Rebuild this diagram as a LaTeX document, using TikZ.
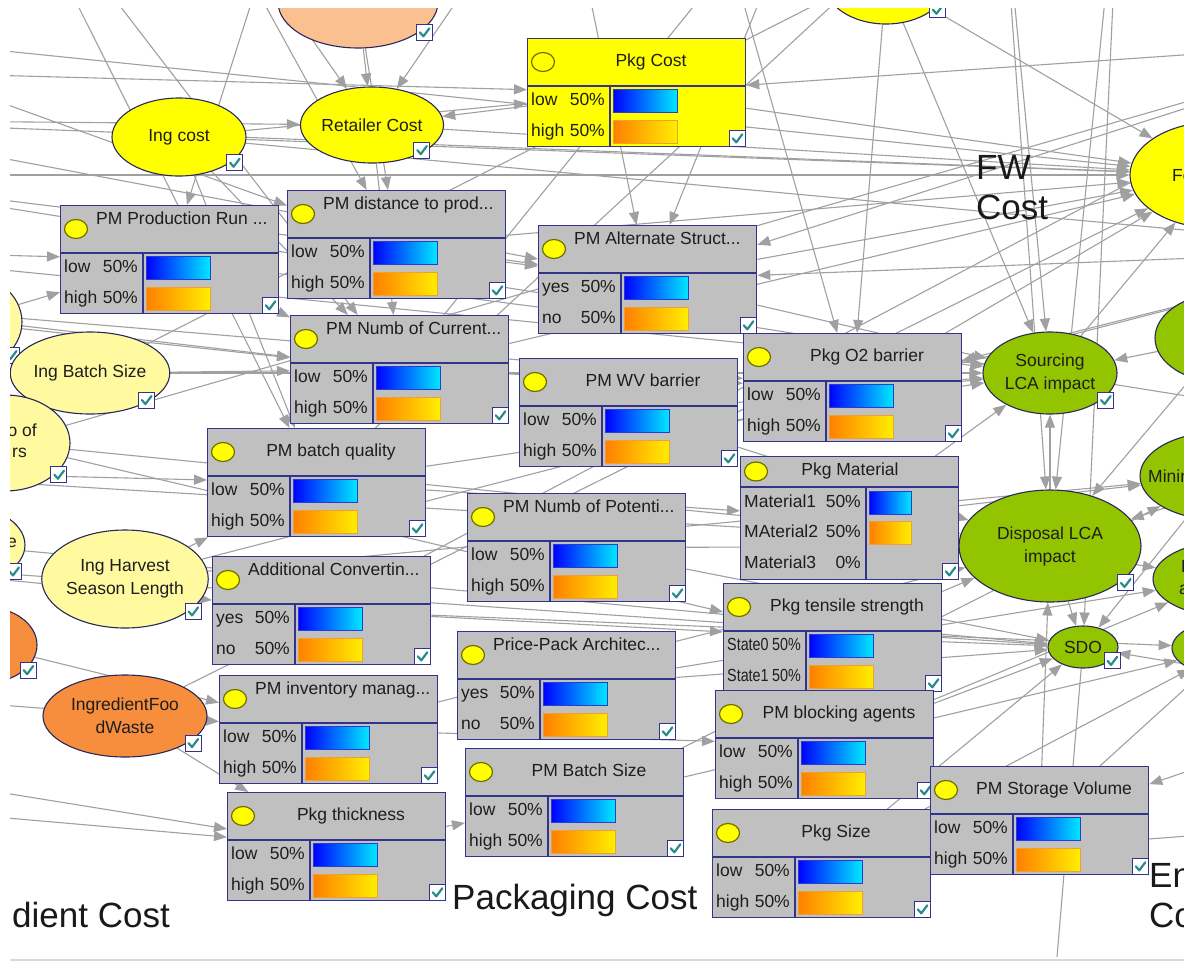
\documentclass[tikz,border=0pt]{standalone}
\usepackage{graphicx}
\usepackage{fontspec}
\setmainfont{Liberation Sans}
\usetikzlibrary{shapes.geometric,arrows.meta,backgrounds}

\definecolor{boxGray}{RGB}{192,192,192}
\definecolor{boxLine}{RGB}{51,51,140}
\definecolor{bubbleLine}{RGB}{40,40,90}
\definecolor{linkGray}{RGB}{160,160,160}
\definecolor{nodeYellow}{RGB}{255,255,0}
\definecolor{paleYellow}{RGB}{255,250,160}
\definecolor{peach}{RGB}{250,192,143}
\definecolor{costOrange}{RGB}{246,142,62}
\definecolor{lcaGreen}{RGB}{146,196,0}
\definecolor{tickTeal}{RGB}{40,140,140}
\definecolor{dotRim}{RGB}{110,110,0}
\definecolor{ink}{RGB}{30,30,30}
\definecolor{barBlue}{RGB}{0,0,255}
\definecolor{barCyan}{RGB}{0,232,255}
\definecolor{barBlueEdge}{RGB}{40,60,210}
\definecolor{barOrange}{RGB}{255,127,0}
\definecolor{barGold}{RGB}{255,238,0}
\definecolor{barOrangeEdge}{RGB}{240,160,50}

\tikzset{
  monbox/.style={rectangle,draw=boxLine,line width=1.3,anchor=north west,minimum width=218,inner sep=0},
  monline/.style={draw=boxLine,line width=1.3},
  dotmark/.style={ellipse,draw=dotRim,fill=nodeYellow,line width=1.2,minimum width=23,minimum height=19,inner sep=0},
  tickbox/.style={rectangle,draw=boxLine,fill=white,line width=1,minimum size=16,inner sep=0,
    path picture={\draw[tickTeal,line width=2.2,line cap=round,line join=round]
      ([shift={(-4.5,0)}]path picture bounding box.center) -- ++(3.5,4) -- ++(6,-8);}},
  bubble/.style={ellipse,draw=bubbleLine,line width=1.1,inner sep=0,align=center},
  barlow/.style={left color=barBlue,right color=barCyan,draw=barBlueEdge,line width=1},
  barhigh/.style={left color=barOrange,right color=barGold,draw=barOrangeEdge,line width=1},
  statetxt/.style={inner sep=0,text height=12.5pt,text depth=3.5pt},
  titletxt/.style={inner sep=0,text height=12.5pt,text depth=3.5pt},
  cuttxt/.style={inner sep=0},
  bigtxt/.style={inner sep=0,align=left,font=\fontsize{35}{40}\selectfont,text=black!90},
  conn/.style={draw=linkGray,line width=1.1,-{Triangle[length=13pt,width=10pt]}}
}

% monitor window: name, x, y, height, header, divider, fill
\newcommand{\monframe}[7]{%
  \node[monbox,minimum height=#4,fill=#7] (#1) at (#2,#3) {};
  \draw[monline] ([shift={(0,#5)}]#1.north west) -- ([shift={(0,#5)}]#1.north east);
  \draw[monline] ([shift={(#6,#5)}]#1.north west) -- ([shift={(#6,0)}]#1.south west);
  \node[dotmark] (#1-dot) at ([shift={(16,#5/2)}]#1.north west) {};
  \node[tickbox] (#1-chk) at ([shift={(-9,-9)}]#1.south east) {};
}
% one state row: box, id, row y, state, share, divider, bar style, bar width
\newcommand{\monrow}[8]{%
  \node[statetxt,anchor=west] (#1-s#2) at ([shift={(4,#3)}]#1.north west) {#4};
  \node[statetxt,anchor=east] (#1-p#2) at ([shift={(#6-5,#3)}]#1.north west) {#5};
  \path[#7] ([shift={(#6+3,#3-12)}]#1.north west) rectangle ++(#8,23);
}
% two state monitor
\newcommand{\cptmon}[6]{%
  \monframe{#1}{#2}{#3}{108}{48}{83}{#4}
  \monrow{#1}{1}{63}{#5}{50\%}{83}{barlow}{64}
  \monrow{#1}{2}{94}{#6}{50\%}{83}{barhigh}{64}
}
\newcommand{\titlefull}[2]{\node[titletxt] (#1-t) at ([shift={(124,24)}]#1.north west) {#2};}
\newcommand{\titlecut}[2]{\node[titletxt,anchor=west] (#1-t) at ([shift={(36,15)}]#1.north west) {#2};}
\newcommand{\narrow}[1]{\scalebox{0.82}[1]{#1}}
% oval node: name, x, y, rx, ry, fill, label
\newcommand{\bnode}[7]{%
  \node[bubble,fill=#6,minimum width={2*#4},minimum height={2*#5}] (#1) at (#2,#3) {#7};
  \node[tickbox] (#1-chk) at ([shift={({0.83*#4},{0.66*#5})}]#1.center) {};
}

\begin{document}
\begin{tikzpicture}[x=1pt,y=-1pt,every node/.style={font=\fontsize{17.5}{23}\selectfont,text=ink}]
\useasboundingbox (0,0) rectangle (1184,962);

% ingredient side
\bnode{peachTop}{358}{2}{80}{46}{peach}{}
\bnode{ingCost}{179}{137}{67}{39}{nodeYellow}{Ing cost}
\bnode{retailer}{372}{125}{60}{38}{nodeYellow}{Retailer Cost}
\bnode{leftTop}{-40}{322}{62}{50}{paleYellow}{}
\bnode{ingBatch}{90}{373}{68}{41}{paleYellow}{Ing Batch Size}
\bnode{leftOf}{5}{443}{65}{48}{paleYellow}{}
\bnode{leftE}{-40}{545}{65}{40}{paleYellow}{}
\bnode{ingHarvest}{125}{579}{82}{49}{paleYellow}{Ing Harvest\\Season Length}
\bnode{leftOrange}{-15}{645}{52}{38}{costOrange}{}
\bnode{ingFW}{125}{716}{82}{41}{costOrange}{IngredientFoo\\dWaste}
\node[cuttxt,anchor=east] (leftOf-l1) at (37,430) {o of};
\node[cuttxt,anchor=east] (leftOf-l2) at (27,453) {rs};
\node[cuttxt,anchor=east] (leftE-l) at (17,543) {e};

% food waste and LCA side
\bnode{fwTop}{886}{-18}{62}{42}{nodeYellow}{}
\bnode{fwCost}{1215}{175}{85}{53}{nodeYellow}{}
\bnode{green1}{1225}{338}{70}{45}{lcaGreen}{}
\bnode{sourcing}{1050}{373}{67}{41}{lcaGreen}{Sourcing\\LCA impact}
\bnode{mining}{1220}{476}{80}{44}{lcaGreen}{}
\bnode{disposal}{1050}{546}{91}{56}{lcaGreen}{Disposal LCA\\impact}
\bnode{recyc}{1225}{579}{72}{37}{lcaGreen}{}
\bnode{sdo}{1083}{647}{35}{21}{lcaGreen}{SDO}
\bnode{green2}{1230}{648}{58}{28}{lcaGreen}{}
\node[cuttxt,anchor=west] (fwCost-l) at (1172,176) {Fo};
\node[cuttxt,anchor=west] (mining-l) at (1148,476) {Minin};
\node[cuttxt,anchor=west] (recyc-l1) at (1181,566) {R};
\node[cuttxt,anchor=west] (recyc-l2) at (1179,590) {a};

% packaging monitors
\cptmon{pkgCost}{527}{38}{nodeYellow}{low}{high}
\titlefull{pkgCost}{Pkg Cost}
\cptmon{pmProdRun}{60}{205}{boxGray}{low}{high}
\titlecut{pmProdRun}{PM Production Run ...}
\cptmon{pmDistance}{287}{190}{boxGray}{low}{high}
\titlecut{pmDistance}{PM distance to prod...}
\cptmon{pmAltStruct}{538}{225}{boxGray}{yes}{no}
\titlecut{pmAltStruct}{PM Alternate Struct...}
\cptmon{pmNumCurrent}{290}{315}{boxGray}{low}{high}
\titlecut{pmNumCurrent}{PM Numb of Current...}
\cptmon{pmWV}{519}{358}{boxGray}{low}{high}
\titlefull{pmWV}{PM WV barrier}
\cptmon{pkgO2}{743}{333}{boxGray}{low}{high}
\titlefull{pkgO2}{Pkg O2 barrier}
\cptmon{pmBatchQual}{207}{428}{boxGray}{low}{high}
\titlefull{pmBatchQual}{PM batch quality}

\monframe{pkgMaterial}{740}{456}{123}{31}{126}{boxGray}
\node[titletxt] (pkgMaterial-t) at ([shift={(110,15)}]pkgMaterial.north west) {Pkg Material};
\monrow{pkgMaterial}{1}{47}{Material1}{50\%}{126}{barlow}{42}
\monrow{pkgMaterial}{2}{77}{MAterial2}{50\%}{126}{barhigh}{42}
\monrow{pkgMaterial}{3}{108}{Material3}{0\%}{126}{}{0}

\cptmon{pmNumPotential}{467}{493}{boxGray}{low}{high}
\titlecut{pmNumPotential}{PM Numb of Potenti...}
\cptmon{addConverting}{212}{556}{boxGray}{yes}{no}
\titlecut{addConverting}{Additional Convertin...}

\monframe{pkgTensile}{723}{583}{108}{48}{83}{boxGray}
\titlefull{pkgTensile}{Pkg tensile strength}
\monrow{pkgTensile}{1}{63}{\narrow{State0}}{\narrow{50\%}}{83}{barlow}{64}
\monrow{pkgTensile}{2}{94}{\narrow{State1}}{\narrow{50\%}}{83}{barhigh}{64}

\cptmon{pricePack}{457}{631}{boxGray}{yes}{no}
\titlecut{pricePack}{Price-Pack Architec...}
\cptmon{pmInventory}{219}{675}{boxGray}{low}{high}
\titlecut{pmInventory}{PM inventory manag...}
\cptmon{pmBlocking}{715}{690}{boxGray}{low}{high}
\titlefull{pmBlocking}{PM blocking agents}
\cptmon{pmBatchSize}{465}{748}{boxGray}{low}{high}
\titlefull{pmBatchSize}{PM Batch Size}
\cptmon{pmStorage}{930}{766}{boxGray}{low}{high}
\titlefull{pmStorage}{PM Storage Volume}
\cptmon{pkgThickness}{227}{792}{boxGray}{low}{high}
\titlefull{pkgThickness}{Pkg thickness}
\cptmon{pkgSize}{712}{809}{boxGray}{low}{high}
\titlefull{pkgSize}{Pkg Size}

% group captions
\node[bigtxt,anchor=north west] (fwLbl) at (976,155) {FW\\Cost};
\node[bigtxt,anchor=base west] (pkgLbl) at (452,909) {Packaging Cost};
\node[bigtxt,anchor=base west] (ingLbl) at (12,927) {dient Cost};
\node[bigtxt,anchor=north west] (envLbl) at (1149,863) {En\\Co};

\begin{pgfonlayer}{background}
% ends off the page
\coordinate (wA) at (-200,30);
\coordinate (wA2) at (-200,70);
\coordinate (wB) at (-200,120);
\coordinate (wC) at (-200,175);
\coordinate (wD) at (-200,250);
\coordinate (wE) at (-200,300);
\coordinate (wF) at (-200,470);
\coordinate (wG) at (-200,560);
\coordinate (wH) at (-200,690);
\coordinate (wI) at (-200,760);
\coordinate (wJ) at (-200,800);
\coordinate (nA2) at (0,-150);
\coordinate (nA) at (180,-150);
\coordinate (nA3) at (300,-150);
\coordinate (nB) at (560,-150);
\coordinate (nC) at (700,-150);
\coordinate (nD) at (820,-150);
\coordinate (nE) at (1000,-150);
\coordinate (nF) at (1120,-150);
\coordinate (eA) at (1400,40);
\coordinate (eB) at (1400,250);
\coordinate (eC) at (1400,430);
\coordinate (eD) at (1400,700);
\coordinate (eE) at (1400,820);
\coordinate (sD) at (1045,1100);

% cost links
\foreach \a/\b in {wA/fwCost, wA2/pkgCost, wB/fwCost, wB/retailer, wC/pmAltStruct, wC/fwCost,
  peachTop/retailer, nA/retailer, nB/retailer, ingCost/pkgCost, ingCost/fwCost, pkgCost/retailer,
  pkgCost/fwCost, retailer/fwCost, eA/pkgCost, fwTop/fwCost, ingFW/fwCost, sourcing/fwCost,
  ingCost/eB, wC/eC, leftOf/eA, ingHarvest/eB}
  \draw[conn] (\a) -- (\b);

% packaging links
\foreach \a/\b in {wD/pmProdRun, leftTop/pmProdRun, wE/pmNumCurrent, pmProdRun/pmNumCurrent,
  ingBatch/pmNumCurrent, leftTop/pmNumCurrent, nA/pmDistance, pmDistance/pmAltStruct,
  pmDistance/fwCost, nB/pmAltStruct, nD/pmAltStruct, eA/pmAltStruct, eB/pmAltStruct,
  pmAltStruct/fwCost, pmNumCurrent/fwCost, pmNumCurrent/pkgO2, nC/pkgO2, fwTop/pkgO2,
  eB/pkgO2, wE/pkgO2, pkgO2/fwCost, wF/pmBatchQual, ingHarvest/pmBatchQual,
  pmBatchQual/pkgMaterial, wG/addConverting, addConverting/pkgTensile, leftOf/pkgTensile,
  wH/pmInventory, leftOrange/pmInventory, pmInventory/pmBlocking, wI/pkgThickness,
  wJ/pkgThickness, ingFW/pkgThickness, pkgThickness/pmBatchSize, eE/pkgSize, eD/pmStorage,
  nA2/pmNumCurrent, nA2/pmBatchQual, nA3/pmProdRun, wA/pmDistance, wB/pmAltStruct,
  ingCost/pmNumCurrent, ingCost/pmBatchQual, peachTop/pmDistance, retailer/pmNumCurrent,
  pmNumCurrent/nD, pmBatchQual/nE, ingBatch/nF, addConverting/eA}
  \draw[conn] (\a) -- (\b);

% LCA links
\foreach \a/\b in {wD/sourcing, pmProdRun/sourcing, pmAltStruct/sourcing, pmWV/sourcing,
  pkgO2/sourcing, pkgMaterial/sourcing, pmBatchQual/sourcing, ingBatch/sourcing,
  fwTop/sourcing, nE/sourcing, green1/sourcing, disposal/sourcing, wF/disposal, nE/disposal,
  nF/disposal, eC/disposal, green1/disposal, pmWV/disposal, pkgMaterial/disposal,
  leftOf/disposal, pmNumPotential/disposal, pkgTensile/disposal, pmInventory/disposal,
  pmStorage/disposal, pkgMaterial/mining, ingHarvest/mining, pmBatchSize/mining, eC/mining,
  pkgMaterial/recyc, pricePack/recyc, pmBlocking/recyc, wG/sdo, leftE/sdo, nF/sdo,
  pmNumPotential/sdo, pkgTensile/sdo, pricePack/sdo, pmBlocking/sdo, pkgSize/sdo,
  disposal/sdo, mining/sdo, eD/sdo, addConverting/green2, pmBatchSize/green2,
  pkgSize/green2, pmStorage/green2, sdo/sD}
  \draw[conn] (\a) -- (\b);
\end{pgfonlayer}

% page margins
\fill[white] (-300,-300) rectangle (10,1300);
\fill[white] (-300,-300) rectangle (1500,8);
\fill[white] (-300,957) rectangle (1500,1300);
\draw[black!15,line width=1.5] (10,960) -- (1184,960);
\end{tikzpicture}
\end{document}
